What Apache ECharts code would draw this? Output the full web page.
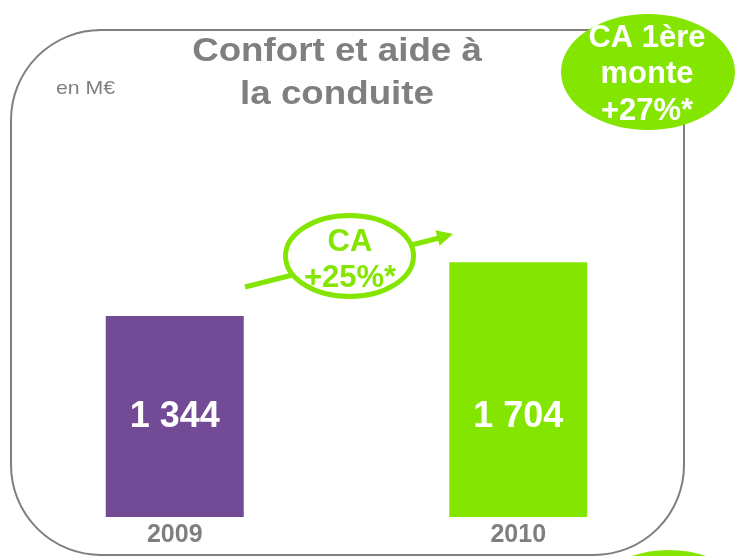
<!DOCTYPE html>
<html>
<head>
<meta charset="utf-8">
<script src="https://cdn.jsdelivr.net/npm/echarts@6/dist/echarts.min.js"></script>
<style>
html, body { margin: 0; padding: 0; background: #fff; }
#chart { width: 735px; height: 556px; }
</style>
</head>
<body>
<div id="chart"></div>
<script>
// CA confort et aide à la conduite (en M€)
var years = ['2009', '2010']
var values = [1344, 1704]
var barColors = ['#734A96', '#84E600']
var valueLabels = ['1 344', '1 704']
var titleLines = ['Confort et aide à', 'la conduite']
var badgeLines = ['CA 1ère', 'monte', '+27%*']
var growthLines = ['CA', '+25%*']

var GREEN = '#84E600'
var GREY = '#7f7f7f'
var FONT = '"Liberation Sans", Arial, sans-serif'

var chart = echarts.init(document.getElementById('chart'))

// texte centré (x, y = milieu de la ligne)
function label (txt, x, y, font, color, sx) {
  return {
    type: 'text', z: 8, x: x, y: y, scaleX: sx || 1,
    style: { text: txt, fill: color, font: font, textAlign: 'center', textVerticalAlign: 'middle' }
  }
}

var option = {
  animation: false,
  backgroundColor: '#fff',
  grid: {
    left: 3,
    right: 45,
    top: 218,
    bottom: 39
  },
  xAxis: {
    type: 'category',
    data: years,
    axisLine: { show: false },
    axisTick: { show: false },
    axisLabel: {
      color: GREY,
      fontFamily: FONT,
      fontWeight: 'bold',
      fontSize: 25,
      margin: 6
    }
  },
  yAxis: {
    type: 'value',
    min: 0,
    max: 2000,
    show: false,
    splitLine: { show: false }
  },
  series: [{
    type: 'bar',
    barWidth: 138,
    z: 3,
    data: values.map(function (v, i) {
      return { value: v, itemStyle: { color: barColors[i] } }
    }),
    label: {
      show: true,
      position: 'insideBottom',
      distance: 82,
      color: '#fff',
      fontFamily: FONT,
      fontWeight: 'bold',
      fontSize: 36,
      formatter: function (p) { return valueLabels[p.dataIndex] }
    }
  }],
  graphic: [
    // cadre arrondi
    {
      type: 'rect',
      z: 1,
      shape: { x: 11, y: 30, width: 673, height: 525, r: 90 },
      style: { fill: 'none', stroke: GREY, lineWidth: 2 }
    },
    // titre
    label(titleLines[0], 337, 52, 'bold 34px ' + FONT, GREY, 1.08),
    label(titleLines[1], 337, 95, 'bold 34px ' + FONT, GREY, 1.08),
    {
      type: 'text', z: 5, x: 56, y: 89, scaleX: 1.12,
      style: { text: 'en M€', fill: GREY, font: '19px ' + FONT, textAlign: 'left', textVerticalAlign: 'middle' }
    },
    // bulle CA 1ère monte
    {
      type: 'ellipse', z: 6,
      shape: { cx: 648, cy: 72, rx: 87, ry: 58 },
      style: { fill: GREEN }
    },
    label(badgeLines[0], 647, 38, 'bold 31px ' + FONT, '#fff'),
    label(badgeLines[1], 647, 74, 'bold 31px ' + FONT, '#fff'),
    label(badgeLines[2], 647, 111, 'bold 31px ' + FONT, '#fff'),
    // flèche de croissance
    {
      type: 'line', z: 6,
      shape: { x1: 245, y1: 287, x2: 439, y2: 238 },
      style: { stroke: GREEN, lineWidth: 5 }
    },
    {
      type: 'polygon', z: 6,
      shape: { points: [[453, 234], [439.5, 245.8], [435.5, 230.2]] },
      style: { fill: GREEN }
    },
    {
      type: 'ellipse', z: 7,
      shape: { cx: 349.5, cy: 256, rx: 64, ry: 40.5 },
      style: { fill: '#fff', stroke: GREEN, lineWidth: 5 }
    },
    label(growthLines[0], 350, 242, 'bold 31px ' + FONT, GREEN),
    label(growthLines[1], 350, 278, 'bold 31px ' + FONT, GREEN),
    // bulle coupée en bas à droite
    {
      type: 'ellipse', z: 6,
      shape: { cx: 669, cy: 608, rx: 84, ry: 58 },
      style: { fill: GREEN }
    }
  ]
}

chart.setOption(option)
window.addEventListener('resize', function () {
  chart.resize()
})
</script>
</body>
</html>
